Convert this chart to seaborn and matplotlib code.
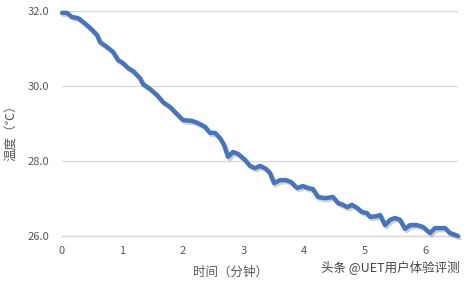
import numpy as np
import pandas as pd
import matplotlib
matplotlib.use("Agg")
import matplotlib.pyplot as plt
import matplotlib.patheffects as pe
import seaborn as sns

# time in minutes
time_min = [0.000, 0.083, 0.165, 0.264, 0.347, 0.463, 0.579, 0.628, 0.744, 0.843,
            0.926, 1.008, 1.091, 1.174, 1.289, 1.339, 1.455, 1.570, 1.669, 1.785,
            1.950, 2.000, 2.149, 2.248, 2.364, 2.446, 2.529, 2.612, 2.678, 2.744,
            2.826, 2.909, 3.025, 3.107, 3.190, 3.273, 3.372, 3.438, 3.504, 3.603,
            3.702, 3.785, 3.884, 3.983, 4.066, 4.149, 4.231, 4.347, 4.479, 4.562,
            4.645, 4.711, 4.793, 4.876, 4.959, 5.041, 5.091, 5.207, 5.256, 5.339,
            5.421, 5.504, 5.587, 5.669, 5.752, 5.868, 5.967, 6.083, 6.165, 6.331,
            6.413, 6.496, 6.545]
# temperature in deg C
temperature = [31.95, 31.95, 31.84, 31.81, 31.71, 31.55, 31.36, 31.17, 31.04, 30.91,
               30.69, 30.61, 30.48, 30.40, 30.21, 30.05, 29.92, 29.76, 29.57, 29.44,
               29.17, 29.09, 29.07, 29.01, 28.91, 28.75, 28.75, 28.61, 28.43, 28.11,
               28.24, 28.19, 28.03, 27.87, 27.81, 27.87, 27.79, 27.68, 27.41, 27.49,
               27.49, 27.44, 27.28, 27.33, 27.28, 27.25, 27.04, 27.01, 27.04, 26.88,
               26.83, 26.77, 26.83, 26.75, 26.64, 26.61, 26.51, 26.53, 26.56, 26.29,
               26.43, 26.48, 26.43, 26.19, 26.29, 26.29, 26.24, 26.08, 26.21, 26.21,
               26.08, 26.03, 26.00]

y_ticks = [26.0, 28.0, 30.0, 32.0]
x_ticks = [0, 1, 2, 3, 4, 5, 6]
x_label = "时间（分钟）"
y_label = "温度（℃）"
watermark = "头条 @UET用户体验评测"

sns.set_theme(style="white")
plt.rcParams['font.family'] = ['Noto Sans CJK SC', 'DejaVu Sans']

df = pd.DataFrame({"t": time_min, "T": temperature})

W, H = 468, 283
fig = plt.figure(figsize=(W / 100, H / 100), dpi=100)
ax = fig.add_axes([62 / W, 1 - 236 / H, (458 - 62) / W, (236 - 11) / H])

sns.lineplot(data=df, x="t", y="T", ax=ax, color="#4674bd", linewidth=3.2,
             sort=False, clip_on=False, zorder=5,
             path_effects=[pe.SimpleLineShadow(offset=(1.2, -1.5), shadow_color="#000000", alpha=0.18),
                           pe.Normal()])

ax.set_xlim(0, 6.545)
ax.set_ylim(26.0, 32.0)
ax.set_yticks(y_ticks)
ax.set_yticklabels([f"{v:.1f}" for v in y_ticks])
ax.set_xticks(x_ticks)
ax.set_xticklabels([str(v) for v in x_ticks])
ax.grid(axis="y", color="#d9d9d9", linewidth=1.0)
ax.grid(axis="x", visible=False)
for s in ["top", "right", "left"]:
    ax.spines[s].set_visible(False)
ax.spines["bottom"].set_color("#d9d9d9")
ax.spines["bottom"].set_linewidth(1.0)
ax.tick_params(axis="both", length=0, labelsize=8, colors="#595959")
ax.tick_params(axis="y", pad=9)
ax.tick_params(axis="x", pad=7)

ax.set_xlabel(x_label, fontsize=9, color="#595959")
ax.xaxis.set_label_coords((230 - 62) / (458 - 62), -(272 - 236) / (236 - 11))
ax.xaxis.label.set_va("center")
ax.set_ylabel(y_label, fontsize=9, color="#595959")
ax.yaxis.set_label_coords(-(62 - 12) / (458 - 62), (236 - 130) / (236 - 11))
ax.yaxis.label.set_va("center")

fig.text(460 / W, 1 - 267 / H, watermark, ha="right", va="center", fontsize=9, color="#444444")

fig.savefig("out.png", dpi=100)
